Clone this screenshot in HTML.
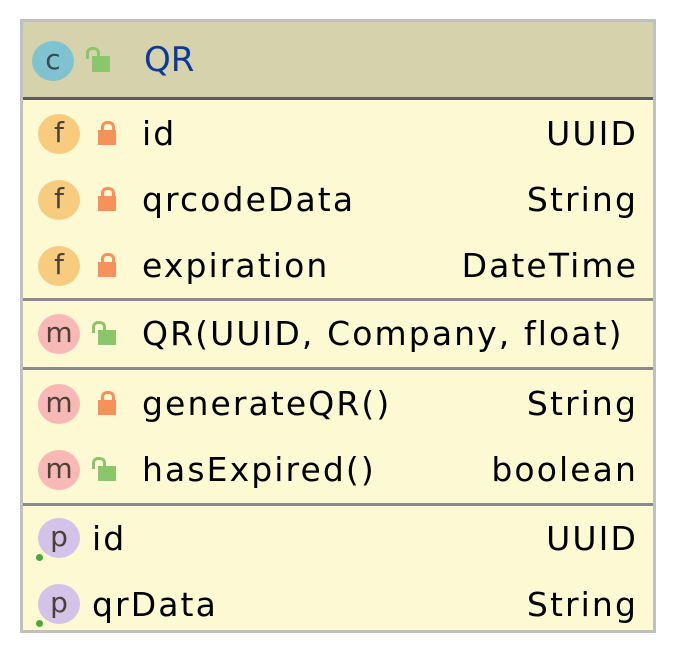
<!DOCTYPE html>
<html><head><meta charset="utf-8"><style>
body{margin:0;width:678px;height:658px;background:#fff;position:relative;overflow:hidden;font-family:"DejaVu Sans",sans-serif;}
.box{position:absolute;left:20px;top:19px;width:630px;height:608px;border:3px solid #c0c0c0;background:#fcf9d3;}
.hdr{position:absolute;left:23px;top:22px;width:630px;height:75px;background:#d6d3ac;}
.sep{position:absolute;left:23px;width:630px;height:3px;background:#8a8a88;}
.ic{position:absolute;width:42px;height:40px;border-radius:50%;text-align:center;font-size:28px;line-height:38px;color:#4a4236;}
.t{position:absolute;font-size:33px;color:#000;line-height:36px;letter-spacing:2.1px;}
.r{position:absolute;right:40px;font-size:33px;color:#000;line-height:36px;letter-spacing:2.1px;}
.lk{position:absolute;width:18px;height:15px;}
.lk:before{content:"";position:absolute;left:3px;top:-9px;width:8px;height:9px;border:3px solid;border-bottom:none;border-radius:6px 6px 0 0;}
.pr{background:#f6915a;}.pr:before{border-color:#f6915a;}
.pu{background:#8cc66a;}.pu:before{border-color:#8cc66a;left:-6px;}
.dot{position:absolute;width:7px;height:7px;border-radius:50%;background:#4da83a;}
</style></head><body>
<div class="box"></div>
<div class="hdr"></div>
<div class="sep" style="top:97px;background:#5c5c58"></div>
<div class="sep" style="top:298px"></div>
<div class="sep" style="top:367px"></div>
<div class="sep" style="top:503px"></div>

<div class="ic" style="left:32px;top:41px;background:#7fc3d0;color:#3a4a50">c</div>
<div class="lk pu" style="left:92px;top:56px;height:16px"></div>
<div class="t" style="left:144px;top:42px;color:#0a3a9c;font-size:34px;letter-spacing:0">QR</div>

<div class="ic" style="left:38px;top:114px;background:#f7cc7e">f</div>
<div class="lk pr" style="left:98px;top:130px"></div>
<div class="t" style="left:142px;top:116px">id</div><div class="r" style="top:116px">UUID</div>

<div class="ic" style="left:38px;top:180px;background:#f7cc7e">f</div>
<div class="lk pr" style="left:98px;top:196px"></div>
<div class="t" style="left:142px;top:182px">qrcodeData</div><div class="r" style="top:182px">String</div>

<div class="ic" style="left:38px;top:246px;background:#f7cc7e">f</div>
<div class="lk pr" style="left:98px;top:262px"></div>
<div class="t" style="left:142px;top:248px">expiration</div><div class="r" style="top:248px">DateTime</div>

<div class="ic" style="left:38px;top:314px;background:#f8b8b6">m</div>
<div class="lk pu" style="left:98px;top:330px"></div>
<div class="t" style="left:142px;top:316px">QR(UUID, Company, float)</div>

<div class="ic" style="left:38px;top:384px;background:#f8b8b6">m</div>
<div class="lk pr" style="left:98px;top:400px"></div>
<div class="t" style="left:142px;top:386px">generateQR()</div><div class="r" style="top:386px">String</div>

<div class="ic" style="left:38px;top:450px;background:#f8b8b6">m</div>
<div class="lk pu" style="left:98px;top:466px"></div>
<div class="t" style="left:142px;top:452px">hasExpired()</div><div class="r" style="top:452px">boolean</div>

<div class="ic" style="left:38px;top:518px;background:#d4c2e8">p</div>
<div class="dot" style="left:36px;top:554px"></div>
<div class="t" style="left:92px;top:521px">id</div><div class="r" style="top:521px">UUID</div>

<div class="ic" style="left:38px;top:584px;background:#d4c2e8">p</div>
<div class="dot" style="left:36px;top:620px"></div>
<div class="t" style="left:92px;top:587px">qrData</div><div class="r" style="top:587px">String</div>
</body></html>
